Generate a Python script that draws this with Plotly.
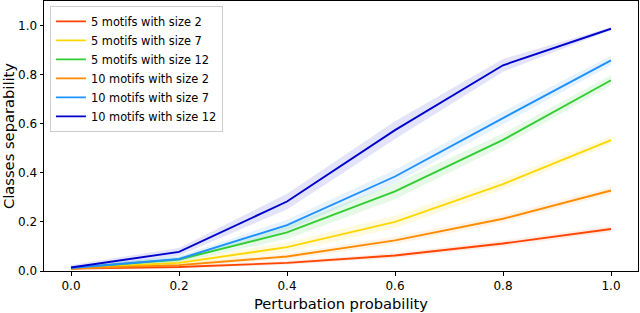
import plotly.graph_objects as go

x_vals = [0.0, 0.2, 0.4, 0.6, 0.8, 1.0]

series_names = [
    "5 motifs with size 2",
    "5 motifs with size 7",
    "5 motifs with size 12",
    "10 motifs with size 2",
    "10 motifs with size 7",
    "10 motifs with size 12",
]
series_colors = ["#ff4500", "#ffd700", "#32cd32", "#ff8c00", "#1e90ff", "#0000cd"]
series_fill = ["rgba(255,69,0,0.10)", "rgba(255,215,0,0.13)", "rgba(50,205,50,0.12)",
               "rgba(255,140,0,0.10)", "rgba(30,144,255,0.11)", "rgba(0,0,205,0.11)"]

mean_5_2 = [0.010, 0.016, 0.033, 0.063, 0.112, 0.171]
mean_5_7 = [0.011, 0.033, 0.097, 0.200, 0.354, 0.533]
mean_5_12 = [0.012, 0.047, 0.157, 0.324, 0.534, 0.777]
mean_10_2 = [0.010, 0.024, 0.059, 0.125, 0.213, 0.328]
mean_10_7 = [0.012, 0.049, 0.187, 0.385, 0.623, 0.858]
mean_10_12 = [0.014, 0.078, 0.283, 0.574, 0.838, 0.987]

spread_5_2 = [0.003, 0.005, 0.008, 0.010, 0.012, 0.012]
spread_5_7 = [0.005, 0.010, 0.020, 0.025, 0.022, 0.016]
spread_5_12 = [0.008, 0.011, 0.027, 0.032, 0.026, 0.020]
spread_10_2 = [0.004, 0.006, 0.012, 0.015, 0.015, 0.015]
spread_10_7 = [0.008, 0.011, 0.022, 0.027, 0.026, 0.020]
spread_10_12 = [0.010, 0.016, 0.032, 0.036, 0.026, 0.006]

means = [mean_5_2, mean_5_7, mean_5_12, mean_10_2, mean_10_7, mean_10_12]
spreads = [spread_5_2, spread_5_7, spread_5_12, spread_10_2, spread_10_7, spread_10_12]

x_ticks = [0.0, 0.2, 0.4, 0.6, 0.8, 1.0]
y_ticks = [0.0, 0.2, 0.4, 0.6, 0.8, 1.0]

fig = go.Figure()

# bands
for m, s, fc in zip(means, spreads, series_fill):
    upper = [a + b for a, b in zip(m, s)]
    lower = [a - b for a, b in zip(m, s)]
    fig.add_trace(go.Scatter(
        x=x_vals + x_vals[::-1], y=upper + lower[::-1],
        fill="toself", fillcolor=fc, line=dict(width=0),
        mode="lines", showlegend=False, hoverinfo="skip"))

# lines
for name, m, c in zip(series_names, means, series_colors):
    fig.add_trace(go.Scatter(x=x_vals, y=m, mode="lines", name=name,
                             line=dict(color=c, width=1.9)))

font_family = "DejaVu Sans"
fig.update_layout(
    width=640, height=313,
    margin=dict(l=44, r=2, t=1, b=42, autoexpand=False),
    plot_bgcolor="white", paper_bgcolor="white",
    font=dict(family=font_family, size=12, color="black"),
    showlegend=True,
    legend=dict(x=0.01, y=0.982, xanchor="left", yanchor="top",
                bgcolor="rgba(255,255,255,0.8)", bordercolor="#cccccc", borderwidth=1,
                font=dict(family=font_family, size=11.4, color="black"),
                itemwidth=30, tracegroupgap=0),
)
fig.update_xaxes(range=[-0.05, 1.05], tickvals=x_ticks, ticktext=[f"{v:.1f}" for v in x_ticks],
                 showgrid=False, zeroline=False, showline=True, linecolor="black", linewidth=1,
                 mirror=True, ticks="outside", ticklen=3.5, tickcolor="black",
                 tickfont=dict(size=12),
                 title=dict(text="Perturbation probability", font=dict(size=14.7), standoff=6))
fig.update_yaxes(range=[0, 1.1], tickvals=y_ticks, ticktext=[f"{v:.1f}" for v in y_ticks],
                 showgrid=False, zeroline=False, showline=True, linecolor="black", linewidth=1,
                 mirror=True, ticks="outside", ticklen=3.5, tickcolor="black",
                 tickfont=dict(size=12),
                 title=dict(text="Classes separability", font=dict(size=14.7), standoff=4))

fig.write_html("out.html", config={"displayModeBar": False},
               post_script="document.body.style.margin='0px';")
